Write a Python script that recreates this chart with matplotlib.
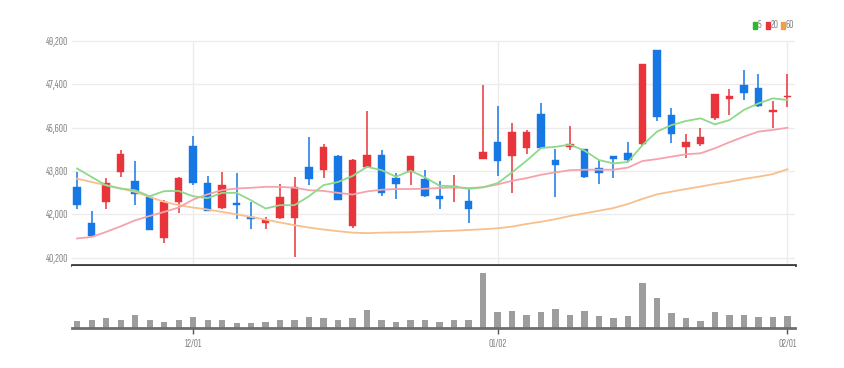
import numpy as np
import matplotlib
matplotlib.use("Agg")
import matplotlib.pyplot as plt
from matplotlib import font_manager
from matplotlib.patches import Rectangle

# ---------------- data ----------------
opens = [43150, 41650, 42500, 43750, 43400, 42700, 41000, 42500, 44850, 43300,
         42250, 42450, 41850, 41650, 41850, 41850, 43950, 43850, 44400, 41500,
         43950, 44450, 43500, 43750, 43450, 42750, 43100, 42550, 44300, 45000,
         44400, 44750, 46150, 44250, 44800, 44700, 43900, 44400, 44550, 44900,
         48800, 46100, 44800, 44900, 46000, 46800, 47350, 47250, 46250, 46850]
highs = [43750, 42150, 43500, 44650, 44200, 42750, 42600, 43550, 45250, 43600,
         43750, 43700, 42500, 41900, 43250, 43550, 45200, 44900, 44450, 44300,
         46300, 44650, 43700, 44400, 43850, 43400, 43650, 43050, 47350, 46500,
         45800, 45500, 46600, 44700, 45650, 44700, 44250, 44400, 45000, 48250,
         48800, 46400, 45350, 45600, 47000, 47200, 48000, 47800, 46700, 47800]
lows = [42200, 41050, 42200, 43550, 42400, 41350, 40800, 42050, 43200, 42150,
        42200, 41800, 41400, 41400, 41800, 40250, 43200, 43500, 42600, 41450,
        43900, 42750, 42650, 43200, 42700, 42200, 42500, 41650, 44300, 43600,
        42900, 44500, 44700, 42700, 44650, 43500, 43250, 43500, 44150, 44850,
        45850, 44950, 44350, 44850, 45900, 46100, 46750, 46450, 45600, 46450]
closes = [42400, 41100, 43300, 44500, 42850, 41350, 42500, 43500, 43300, 42150,
          43200, 42400, 41800, 41750, 42700, 43150, 43450, 44800, 42600, 44250,
          44450, 42900, 43250, 44400, 42750, 42650, 43150, 42200, 44600, 44200,
          45400, 45400, 44750, 44050, 44900, 43550, 43700, 44300, 44250, 48250,
          46050, 45350, 45000, 45200, 47000, 46900, 47050, 46500, 46300, 46900]
volumes = [22, 25, 30, 25, 39, 25, 19, 25, 34, 25, 25, 14, 14, 19, 25, 23, 34, 29, 25, 30,
           53, 25, 18, 25, 25, 19, 23, 23, 165, 48, 50, 40, 48, 58, 40, 50, 35, 30, 35, 135,
           89, 45, 30, 20, 48, 40, 39, 34, 34, 35]
ma5 = [43900, 43550, 43200, 43070, 43000, 42750, 42960, 42970, 42750, 42670,
       42890, 42890, 42580, 42240, 42380, 42380, 42750, 43210, 43340, 43590,
       43970, 43830, 43560, 43810, 43530, 43190, 43160, 43050, 43120, 43290,
       43740, 44220, 44750, 44800, 44890, 44640, 44250, 44110, 44170, 44870,
       45430, 45700, 45870, 45980, 45730, 45910, 46330, 46600, 46810, 46740]
ma20 = [41000, 41060, 41270, 41500, 41750, 41930, 42100, 42280, 42610, 42830,
        43000, 43070, 43100, 43140, 43140, 43100, 43000, 42970, 42890, 42820,
        42950, 43020, 43050, 43050, 43060, 43090, 43120, 43090, 43120, 43240,
        43390, 43500, 43640, 43740, 43830, 43850, 43850, 43850, 43940, 44210,
        44290, 44390, 44490, 44530, 44740, 44990, 45220, 45430, 45500, 45590]
ma60 = [43480, 43340, 43210, 43070, 42930, 42720, 42520, 42380, 42280, 42200,
        42100, 42000, 41890, 41780, 41660, 41550, 41450, 41370, 41300, 41240,
        41220, 41240, 41250, 41260, 41280, 41300, 41320, 41350, 41380, 41420,
        41490, 41600, 41690, 41800, 41930, 42040, 42150, 42260, 42430, 42640,
        42830, 42940, 43050, 43150, 43260, 43350, 43470, 43560, 43670, 43870]
price_ticks = [40200, 42000, 43800, 45600, 47400, 49200]
date_tick_idx = [8, 29, 49]
date_tick_labels = ["12/01", "01/02", "02/01"]
legend_labels = ["5", "20", "60"]

# ---------------- style ----------------
names = {f.name for f in font_manager.fontManager.ttflist}
FONT = "Sofia Sans Extra Condensed"
if FONT not in names:
    FONT = "Roboto Condensed" if "Roboto Condensed" in names else "DejaVu Sans"
plt.rcParams["font.family"] = [FONT, "DejaVu Sans"]

RED = "#e8353b"
BLUE = "#1677e5"
C_MA5 = "#8ed98b"
C_MA20 = "#f5a3ab"
C_MA60 = "#f7c08c"
TXT = "#858585"
FS = 8.4

W, H = 844, 368
fig = plt.figure(figsize=(W / 100, H / 100), dpi=100)

def px_axes(x0, y0, x1, y1):
    return fig.add_axes([x0 / W, 1 - y1 / H, (x1 - x0) / W, (y1 - y0) / H])

n = len(opens)
x = np.arange(n)
XL = (-0.35, 49.52)

# ---------------- price pane ----------------
ax = px_axes(72, 38, 795, 265)
ax.set_xlim(*XL)
ax.set_ylim(39898, 49312)

for t in price_ticks:
    ax.axhline(t, color="#ececec", lw=1, zorder=0)
for i in date_tick_idx:
    ax.vlines(i, 39898, 49200, color="#ececec", lw=1, zorder=0)

o = np.array(opens); c = np.array(closes)
hi = np.array(highs); lo = np.array(lows)
up = c >= o
cols = np.where(up, RED, BLUE)
bottom = np.minimum(o, c)
height = np.maximum(np.abs(c - o), 70)
ax.vlines(x, lo, hi, colors=cols, lw=1.1, zorder=2)
ax.bar(x, height, bottom=bottom, width=0.5, color=cols, edgecolor=cols, lw=0.3, zorder=3)

ax.plot(x, ma60, color=C_MA60, lw=1.3, zorder=4)
ax.plot(x, ma20, color=C_MA20, lw=1.3, zorder=4)
ax.plot(x, ma5, color=C_MA5, lw=1.3, zorder=4)

ax.set_yticks(price_ticks)
ax.set_yticklabels([f"{t:,}" for t in price_ticks])
ax.tick_params(axis="y", length=0, pad=3, labelsize=FS, labelcolor=TXT)
ax.set_xticks([])
for s in ["top", "left", "right"]:
    ax.spines[s].set_visible(False)
ax.spines["bottom"].set_color("#3c3c3c")
ax.spines["bottom"].set_linewidth(2)

# ---------------- volume pane ----------------
axv = px_axes(72, 266, 795, 328)
axv.set_xlim(*XL)
axv.set_ylim(0, 185)
axv.bar(x, volumes, width=0.42, color="#9d9d9d", zorder=2)
axv.set_yticks([])
axv.set_xticks(date_tick_idx)
axv.set_xticklabels(date_tick_labels)
axv.tick_params(axis="x", length=4, width=1, color="#555555", pad=4,
                labelsize=FS, labelcolor=TXT)
for s in ["top", "left", "right"]:
    axv.spines[s].set_visible(False)
axv.spines["bottom"].set_color("#6e6e6e")
axv.spines["bottom"].set_linewidth(2)

# ---------------- legend ----------------
leg_cols = ["#2db82d", RED, "#f0a040"]
xs = [753, 766, 781]
for xx, col, lab in zip(xs, leg_cols, legend_labels):
    fig.add_artist(Rectangle((xx / W, 1 - 29 / H), 3.5 / W, 7 / H,
                             transform=fig.transFigure, color=col))
    fig.text((xx + 4.5) / W, 1 - 25.5 / H, lab, fontsize=FS, color=TXT,
             va="center", ha="left")

fig.savefig("out.png", dpi=100)
